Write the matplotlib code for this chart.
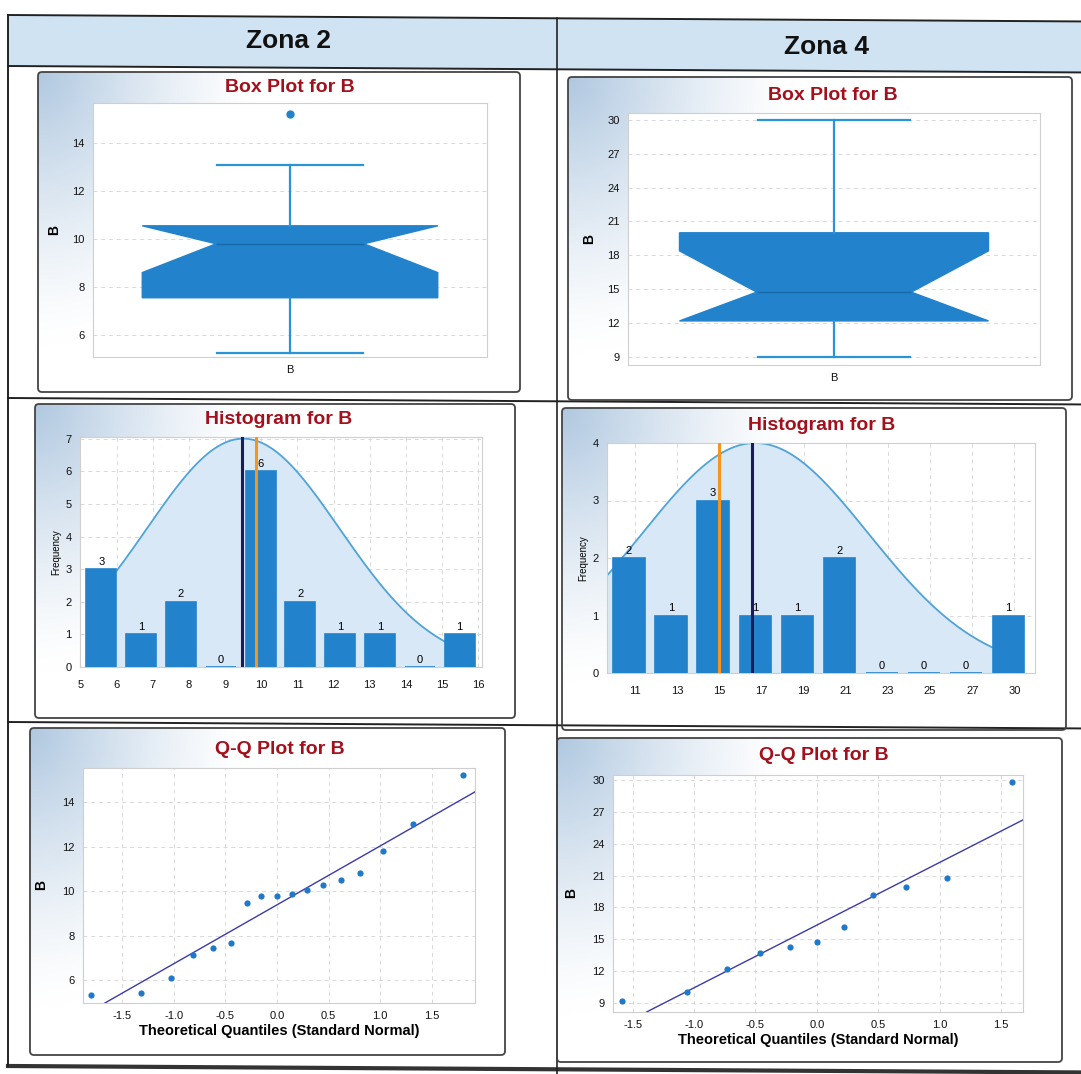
import numpy as np
import matplotlib
matplotlib.use("Agg")
import matplotlib.pyplot as plt
from matplotlib.patches import FancyBboxPatch

# ---------------- data ----------------
zones = ["Zona 2", "Zona 4"]

# Box plot stats
box2 = dict(q1=7.55, med=9.8, q3=10.55, cilo=8.6, cihi=10.55, whislo=5.25, whishi=13.1, fliers=[15.2], label="B")
box4 = dict(q1=12.2, med=14.75, q3=20.0, cilo=12.2, cihi=18.4, whislo=9.0, whishi=30.0, fliers=[], label="B")

# Histograms
hist2_centers = [5.58, 6.68, 7.78, 8.88, 9.98, 11.08, 12.18, 13.28, 14.38, 15.48]
hist2_counts = [3, 1, 2, 0, 6, 2, 1, 1, 0, 1]
hist2_ticks = [5, 6, 7, 8, 9, 10, 11, 12, 13, 14, 15, 16]
hist2_mean, hist2_median = 9.47, 9.85
hist2_curve = dict(peak=7.0, mu=9.5, sd=2.66, start=6.0, end=15.07)

hist4_centers = [10.45, 12.5, 14.55, 16.6, 18.65, 20.7, 22.75, 24.8, 26.85, 28.9]
hist4_counts = [2, 1, 3, 1, 1, 2, 0, 0, 0, 1]
hist4_ticklabels = ["11", "13", "15", "17", "19", "21", "23", "25", "27", "30"]
hist4_mean, hist4_median = 16.45, 14.85
hist4_curve = dict(peak=4.0, mu=16.6, sd=5.5, start=9.4, end=28.1)

# Q-Q plots
qq2_x = [-1.80, -1.32, -1.03, -0.81, -0.62, -0.45, -0.29, -0.15, 0.0, 0.15, 0.29, 0.45, 0.62, 0.81, 1.03, 1.32, 1.80]
qq2_y = [5.33, 5.43, 6.10, 7.11, 7.45, 7.68, 9.47, 9.78, 9.78, 9.87, 10.03, 10.26, 10.51, 10.82, 11.80, 13.01, 15.21]
qq2_line = dict(intercept=9.38, slope=2.645)

qq4_x = [-1.59, -1.06, -0.73, -0.46, -0.22, 0.0, 0.22, 0.46, 0.73, 1.06, 1.59]
qq4_y = [9.22, 10.0, 12.23, 13.68, 14.27, 14.71, 16.13, 19.17, 19.92, 20.80, 29.78]
qq4_line = dict(intercept=16.33, slope=5.9)

qq_xticks = [-1.5, -1.0, -0.5, 0.0, 0.5, 1.0, 1.5]

# ---------------- style ----------------
FONT = ["Liberation Sans", "DejaVu Sans"]
plt.rcParams["font.family"] = FONT
BLUE = "#2283cc"
CURVE = "#4fa3d6"
FILL = "#d8e8f6"
TITLE_RED = "#a3101c"
NAVY = "#1b1b5c"
ORANGE = "#f7941d"
GRID = "#d9d9d9"

W, H = 1081, 1074
fig = plt.figure(figsize=(W / 100, H / 100), dpi=100)


def rect(x0, y0, x1, y1):
    return [x0 / W, 1 - y1 / H, (x1 - x0) / W, (y1 - y0) / H]


bg = fig.add_axes([0, 0, 1, 1])
bg.set_xlim(0, W)
bg.set_ylim(H, 0)
bg.axis("off")

tilt = 0.006
def tl(y):
    return [y, y + tilt * (W - 8)]

bg.add_patch(plt.Polygon([(8, 15), (W, 15 + tilt * (W - 8)), (W, 66 + tilt * (W - 8)), (8, 66)],
                         closed=True, facecolor="#cfe3f3", edgecolor="none"))
for y in [15, 66, 398, 722]:
    bg.plot([8, W], tl(y), color="#222222", lw=1.4)
bg.plot([8, W], tl(1066), color="#333333", lw=3)
bg.plot([8, 8], [15, 1066], color="#222222", lw=1.4)
bg.plot([557, 557], [15 + tilt * 549, H], color="#222222", lw=1.2)
bg.text(288, 41, zones[0], ha="center", va="center", fontsize=19, fontweight="bold", color="#111111")
bg.text(826, 47, zones[1], ha="center", va="center", fontsize=19, fontweight="bold", color="#111111")

panels = [(38, 72, 520, 392), (568, 77, 1072, 400),
          (35, 404, 515, 718), (562, 408, 1066, 730),
          (30, 728, 505, 1055), (557, 738, 1062, 1062)]

# gradient image for panels
gy, gx = np.mgrid[0:1:120j, 0:1:160j]
f = np.clip(1 - np.hypot(gx / 0.45, gy / 0.85), 0, 1) ** 1.3
c = np.array([176, 200, 224]) / 255.0
grad = (1 - f)[..., None] * np.ones(3) + f[..., None] * c

for (x0, y0, x1, y1) in panels:
    pa = fig.add_axes(rect(x0, y0, x1, y1))
    pa.imshow(grad, aspect="auto", extent=(0, 1, 1, 0))
    pa.set_xlim(0, 1)
    pa.set_ylim(1, 0)
    pa.axis("off")
    bg.add_patch(FancyBboxPatch((x0, y0), x1 - x0, y1 - y0, boxstyle="round,pad=0,rounding_size=4",
                                facecolor="none", edgecolor="#444444", lw=1.3, zorder=5))

titles = [("Box Plot for B", 290, 88), ("Box Plot for B", 833, 95),
          ("Histogram for B", 279, 419), ("Histogram for B", 822, 426),
          ("Q-Q Plot for B", 280, 749), ("Q-Q Plot for B", 824, 756)]
for t, x, y in titles:
    bg.text(x, y, t, ha="center", va="center", fontsize=14, fontweight="bold", color=TITLE_RED, zorder=10)

bg.set_zorder(3)
bg.patch.set_alpha(0)


def style(ax):
    ax.set_facecolor("white")
    for s in ax.spines.values():
        s.set_color("#cfcfcf")
        s.set_linewidth(0.8)
    ax.tick_params(length=0, labelsize=8, colors="#111111", pad=6)
    ax.grid(True, ls=(0, (4, 4)), color=GRID, lw=0.7)
    ax.set_axisbelow(True)
    ax.set_zorder(2)


# ---------------- box plots ----------------
for (stats, r, yticks, ylim) in [(box2, (93, 103, 487, 357), [6, 8, 10, 12, 14], (5.08, 15.67)),
                                  (box4, (628, 113, 1040, 365), [9, 12, 15, 18, 21, 24, 27, 30], (8.3, 30.6))]:
    ax = fig.add_axes(rect(*r))
    style(ax)
    ax.xaxis.grid(False)
    ax.bxp([stats], positions=[0], widths=0.75, shownotches=True, patch_artist=True, capwidths=0.37,
           boxprops=dict(facecolor=BLUE, edgecolor=BLUE, lw=1),
           medianprops=dict(color="#1668a8", lw=1),
           whiskerprops=dict(color="#2a95d6", lw=1.6),
           capprops=dict(color="#2a95d6", lw=1.6),
           flierprops=dict(marker="o", markerfacecolor=BLUE, markeredgecolor=BLUE, markersize=5))
    ax.set_xlim(-0.5, 0.5)
    ax.set_ylim(*ylim)
    ax.set_yticks(yticks)
    ax.set_xticks([0])
    ax.set_xticklabels(["B"], fontsize=8)
    ax.set_ylabel("B", fontsize=10, fontweight="bold", labelpad=8)

# ---------------- histograms ----------------
def hist_panel(r, centers, counts, width, xlim, ylim, yticks, mean, median, curve, xticks, xticklabels):
    ax = fig.add_axes(rect(*r))
    style(ax)
    xs = np.linspace(curve["start"], curve["end"], 300)
    ys = curve["peak"] * np.exp(-0.5 * ((xs - curve["mu"]) / curve["sd"]) ** 2)
    ax.fill_between(xs, 0, ys, color=FILL, lw=0, zorder=1)
    ax.plot(xs, ys, color=CURVE, lw=1.3, zorder=2)
    ax.bar(centers, counts, width=width, color=BLUE, edgecolor=BLUE, lw=1.2, zorder=3)
    for cx, cnt in zip(centers, counts):
        ax.text(cx, cnt + 0.01 * ylim[1], str(cnt), ha="center", va="bottom", fontsize=8, zorder=6)
    ax.axvline(mean, color=NAVY, lw=2.2, zorder=5)
    ax.axvline(median, color=ORANGE, lw=2.2, zorder=5)
    ax.set_xlim(*xlim)
    ax.set_ylim(*ylim)
    ax.set_yticks(yticks)
    ax.set_xticks(xticks)
    ax.set_xticklabels(xticklabels)
    ax.tick_params(axis="x", pad=9)
    ax.set_ylabel("Frequency", fontsize=7, labelpad=3)
    return ax


hist_panel((80, 437, 482, 667), hist2_centers, hist2_counts, 0.83, (4.99, 16.1), (0, 7.05), range(0, 8),
           hist2_mean, hist2_median, hist2_curve, hist2_ticks, [str(t) for t in hist2_ticks])
hist_panel((607, 443, 1035, 673), hist4_centers, hist4_counts, 1.53, (9.39, 30.2), (0, 4.0), range(0, 5),
           hist4_mean, hist4_median, hist4_curve, [cx + 0.3 for cx in hist4_centers], hist4_ticklabels)

# ---------------- Q-Q plots ----------------
def qq_panel(r, qx, qy, line, xlim, ylim, yticks):
    ax = fig.add_axes(rect(*r))
    style(ax)
    ax.axline((0, line["intercept"]), slope=line["slope"], color="#3b3ba8", lw=1.0, zorder=3)
    ax.scatter(qx, qy, s=20, color="#1f78c8", zorder=4, linewidths=0)
    ax.set_xlim(*xlim)
    ax.set_ylim(*ylim)
    ax.set_yticks(yticks)
    ax.set_xticks(qq_xticks)
    ax.set_xticklabels([f"{t:.1f}" for t in qq_xticks])
    ax.set_xlabel("Theoretical Quantiles (Standard Normal)", fontsize=10.5, fontweight="bold", labelpad=2)
    ax.set_ylabel("B", fontsize=10, fontweight="bold", labelpad=10)
    return ax


qq_panel((83, 768, 475, 1003), qq2_x, qq2_y, qq2_line, (-1.88, 1.92), (4.97, 15.53), [6, 8, 10, 12, 14])
qq_panel((613, 775, 1023, 1012), qq4_x, qq4_y, qq4_line, (-1.66, 1.68), (8.15, 30.47),
         [9, 12, 15, 18, 21, 24, 27, 30])

fig.savefig("out.png", dpi=100)
